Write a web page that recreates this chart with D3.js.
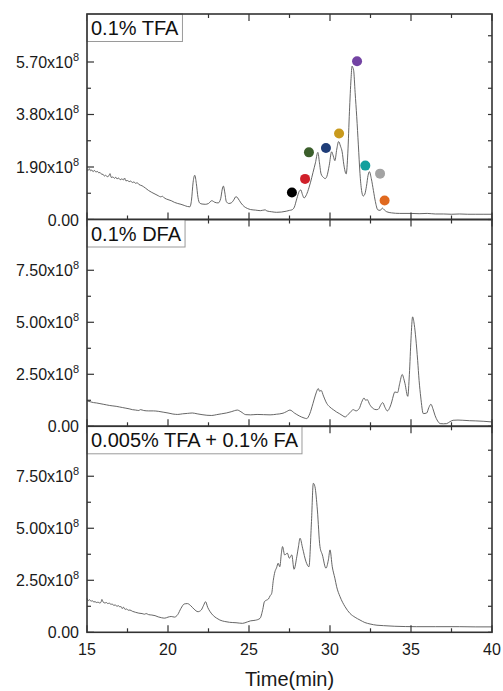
<!DOCTYPE html>
<html><head><meta charset="utf-8">
<script src="https://cdn.jsdelivr.net/npm/d3@7"></script>
<style>body{margin:0;background:#fff}svg{display:block}</style>
</head><body>
<svg id="c" width="503" height="691"></svg>
<script>
// ---------- data (time in min, intensity in units of 1e8) ----------
const panelLabels = ["0.1% TFA", "0.1% DFA", "0.005% TFA + 0.1% FA"];
const xTicksMajor = [15, 20, 25, 30, 35, 40];
const xTicksMinor = [17.5, 22.5, 27.5, 32.5, 37.5];
const tfaTicks = [0, 1.90, 3.80, 5.70];
const tfaMinor = [0.95, 2.85, 4.75, 6.65];
const otherTicks = [0, 2.50, 5.00, 7.50];
const otherMinor = [1.25, 3.75, 6.25, 8.75];

const tfa = [[15.0,1.80],[15.08,1.78],[15.15,1.84],[15.22,1.76],[15.3,1.79],[15.38,1.73],[15.45,1.78],[15.55,1.72],[15.65,1.74],[15.72,1.69],[15.8,1.70],[15.9,1.64],[16.0,1.63],[16.08,1.57],[16.15,1.60],[16.25,1.55],[16.35,1.58],[16.42,1.66],[16.5,1.52],[16.6,1.54],[16.7,1.49],[16.78,1.53],[16.85,1.47],[16.95,1.50],[17.05,1.44],[17.15,1.47],[17.25,1.43],[17.32,1.50],[17.4,1.40],[17.5,1.41],[17.6,1.37],[17.7,1.39],[17.8,1.34],[17.9,1.36],[18.0,1.31],[18.1,1.33],[18.2,1.27],[18.4,1.22],[18.6,1.14],[18.8,1.05],[19.0,0.98],[19.2,0.92],[19.4,0.86],[19.55,0.82],[19.65,0.84],[19.8,0.77],[20.0,0.72],[20.2,0.68],[20.4,0.62],[20.6,0.58],[20.8,0.55],[21.0,0.51],[21.2,0.47],[21.35,0.46],[21.45,0.70],[21.55,1.35],[21.65,1.60],[21.75,1.30],[21.85,0.80],[21.95,0.60],[22.1,0.56],[22.3,0.55],[22.5,0.58],[22.7,0.68],[22.9,0.62],[23.1,0.60],[23.25,0.75],[23.35,1.10],[23.42,1.21],[23.5,1.00],[23.6,0.65],[23.75,0.58],[23.9,0.60],[24.05,0.70],[24.2,0.83],[24.3,0.78],[24.5,0.60],[24.7,0.47],[24.9,0.40],[25.1,0.36],[25.4,0.34],[25.7,0.32],[26.0,0.35],[26.1,0.31],[26.4,0.28],[26.7,0.26],[27.0,0.27],[27.3,0.30],[27.5,0.33],[27.65,0.35],[27.8,0.45],[27.95,0.75],[28.1,1.02],[28.2,1.07],[28.3,0.90],[28.4,0.78],[28.55,0.90],[28.7,1.15],[28.8,1.35],[28.95,1.70],[29.1,2.05],[29.25,2.43],[29.35,2.05],[29.45,1.65],[29.6,1.52],[29.7,1.48],[29.8,1.55],[29.95,1.95],[30.1,2.45],[30.2,2.30],[30.3,2.13],[30.42,2.55],[30.53,2.82],[30.65,2.65],[30.75,2.45],[30.85,2.00],[31.0,1.65],[31.1,2.40],[31.2,3.90],[31.3,5.10],[31.36,5.55],[31.41,5.50],[31.46,5.40],[31.55,4.60],[31.65,3.72],[31.75,2.70],[31.85,1.67],[31.95,1.05],[32.05,0.85],[32.15,0.92],[32.25,1.20],[32.35,1.60],[32.43,1.73],[32.55,1.48],[32.68,1.05],[32.8,0.65],[32.95,0.35],[33.1,0.33],[33.23,0.41],[33.35,0.35],[33.5,0.28],[33.8,0.24],[34.3,0.22],[35.0,0.22],[35.5,0.21],[36.0,0.22],[36.5,0.20],[37.0,0.20],[37.5,0.19],[38.0,0.20],[38.5,0.19],[39.0,0.19],[39.5,0.19],[40.0,0.19]];

const dfa = [[15.0,1.22],[15.2,1.18],[15.4,1.14],[15.6,1.12],[15.8,1.09],[16.0,1.06],[16.2,1.03],[16.4,1.00],[16.6,0.98],[16.8,0.96],[17.0,0.93],[17.2,0.90],[17.4,0.87],[17.6,0.84],[17.8,0.80],[18.0,0.78],[18.2,0.76],[18.3,0.80],[18.5,0.76],[18.8,0.74],[19.1,0.74],[19.4,0.72],[19.7,0.68],[20.0,0.64],[20.3,0.59],[20.6,0.57],[20.9,0.60],[21.2,0.62],[21.5,0.64],[21.8,0.60],[22.1,0.56],[22.4,0.53],[22.7,0.52],[23.0,0.56],[23.3,0.60],[23.6,0.64],[23.9,0.70],[24.1,0.75],[24.28,0.78],[24.5,0.70],[24.8,0.56],[25.1,0.55],[25.5,0.57],[25.9,0.56],[26.3,0.55],[26.7,0.58],[27.1,0.63],[27.3,0.70],[27.53,0.78],[27.8,0.64],[28.1,0.50],[28.4,0.40],[28.56,0.37],[28.75,0.60],[28.95,1.10],[29.1,1.50],[29.28,1.81],[29.36,1.68],[29.45,1.73],[29.6,1.45],[29.8,1.10],[30.0,0.92],[30.2,0.80],[30.4,0.69],[30.6,0.60],[30.8,0.50],[30.93,0.45],[31.1,0.55],[31.3,0.72],[31.44,0.80],[31.6,0.74],[31.8,0.85],[31.95,1.15],[32.1,1.36],[32.2,1.25],[32.3,1.28],[32.45,1.05],[32.67,0.85],[32.85,0.80],[32.98,0.82],[33.15,1.05],[33.25,1.14],[33.4,0.90],[33.54,0.74],[33.7,0.92],[33.81,1.17],[33.92,1.50],[34.0,1.65],[34.17,1.62],[34.3,2.05],[34.46,2.49],[34.55,2.30],[34.63,2.05],[34.8,1.44],[34.9,2.50],[35.0,4.20],[35.1,5.26],[35.2,4.90],[35.3,4.20],[35.41,3.17],[35.5,2.20],[35.6,1.41],[35.76,0.61],[35.97,0.64],[36.1,0.90],[36.23,1.06],[36.35,0.85],[36.48,0.53],[36.65,0.25],[36.8,0.13],[37.0,0.12],[37.2,0.13],[37.4,0.22],[37.6,0.29],[37.9,0.30],[38.2,0.29],[38.6,0.27],[39.0,0.26],[39.5,0.24],[40.0,0.21]];

const mix = [[15.0,1.63],[15.07,1.52],[15.15,1.57],[15.25,1.49],[15.32,1.52],[15.42,1.46],[15.5,1.47],[15.6,1.43],[15.68,1.45],[15.78,1.41],[15.86,1.44],[15.92,1.58],[16.0,1.45],[16.1,1.41],[16.2,1.43],[16.28,1.38],[16.38,1.40],[16.48,1.34],[16.55,1.36],[16.65,1.30],[16.75,1.31],[16.85,1.25],[16.95,1.28],[17.02,1.22],[17.1,1.24],[17.18,1.14],[17.25,1.21],[17.35,1.10],[17.45,1.12],[17.55,1.06],[17.65,1.07],[17.8,1.01],[18.0,0.96],[18.2,0.92],[18.4,0.90],[18.55,0.87],[18.65,0.90],[18.8,0.85],[19.0,0.83],[19.2,0.80],[19.4,0.74],[19.6,0.70],[19.8,0.68],[20.0,0.73],[20.2,0.76],[20.4,0.73],[20.6,0.85],[20.8,1.15],[21.0,1.36],[21.2,1.38],[21.4,1.28],[21.6,1.12],[21.85,0.99],[22.05,1.07],[22.2,1.30],[22.32,1.47],[22.45,1.20],[22.6,0.99],[22.8,0.80],[23.0,0.68],[23.2,0.59],[23.5,0.52],[23.8,0.48],[24.2,0.46],[24.6,0.43],[24.9,0.50],[25.1,0.55],[25.4,0.58],[25.68,0.67],[25.85,1.10],[25.95,1.47],[26.09,1.55],[26.2,1.60],[26.3,1.75],[26.4,1.87],[26.5,2.50],[26.6,2.91],[26.7,3.10],[26.8,3.32],[26.9,3.15],[27.0,3.80],[27.07,4.12],[27.2,3.72],[27.37,3.80],[27.49,3.56],[27.64,3.72],[27.78,3.03],[27.95,3.63],[28.05,4.10],[28.15,4.52],[28.31,4.04],[28.52,3.39],[28.7,3.15],[28.85,5.20],[28.97,7.16],[29.07,7.00],[29.22,5.88],[29.38,4.12],[29.53,3.72],[29.75,3.08],[29.9,3.48],[30.0,3.96],[30.14,3.15],[30.3,2.60],[30.41,2.19],[30.62,1.71],[30.93,1.23],[31.23,0.91],[31.55,0.72],[31.85,0.59],[32.15,0.47],[32.47,0.40],[32.9,0.34],[33.3,0.32],[34.0,0.29],[35.35,0.27],[36.5,0.27],[38.0,0.27],[39.0,0.26],[40.0,0.26]];

// marker dots on the TFA trace
const dotT = [27.65, 28.46, 28.70, 29.75, 30.56, 31.67, 32.18, 33.09, 33.37];
const dotV = [0.98, 1.47, 2.43, 2.59, 3.11, 5.73, 1.95, 1.66, 0.69];
const dotColors = ["#000000", "#d0202a", "#3b5e2b", "#1f3d78", "#c99a1d", "#7343a3", "#12a09e", "#a3a3a3", "#e0691f"];

// ---------- layout ----------
const svg = d3.select("#c");
const font = "'Liberation Sans', Arial, sans-serif";
const x = d3.scaleLinear().domain([15, 40]).range([87, 492]);
const panels = [
  {top: 14, bottom: 219.5, max: 7.437, data: tfa, ticks: tfaTicks, minor: tfaMinor},
  {top: 219.5, bottom: 426.3, max: 9.94, data: dfa, ticks: otherTicks, minor: otherMinor},
  {top: 426.3, bottom: 632.3, max: 9.90, data: mix, ticks: otherTicks, minor: otherMinor}
];
const axisColor = "#333";

panels.forEach((p, i) => {
  const y = d3.scaleLinear().domain([0, p.max]).range([p.bottom, p.top]);
  const g = svg.append("g");
  const line = d3.line().x(d => x(d[0])).y(d => y(d[1])).curve(d3.curveMonotoneX);
  g.append("path").datum(p.data).attr("d", line)
    .attr("fill", "none").attr("stroke", "#555").attr("stroke-width", 0.9);

  if (i === 0) {
    g.selectAll("circle").data(dotT).join("circle")
      .attr("cx", d => x(d)).attr("cy", (d, k) => y(dotV[k]))
      .attr("r", 5).attr("fill", (d, k) => dotColors[k]);
  }

  // ticks (inward) on all four sides
  const tk = g.append("g").attr("stroke", axisColor).attr("stroke-width", 1.2);
  const x0 = x.range()[0], x1 = x.range()[1];
  xTicksMajor.concat(xTicksMinor).forEach(t => {
    const L = xTicksMajor.includes(t) ? 7 : 4;
    tk.append("line").attr("x1", x(t)).attr("x2", x(t)).attr("y1", p.bottom).attr("y2", p.bottom - L);
    tk.append("line").attr("x1", x(t)).attr("x2", x(t)).attr("y1", p.top).attr("y2", p.top + L);
  });
  p.ticks.concat(p.minor).forEach(v => {
    const L = p.ticks.includes(v) ? 7 : 4;
    tk.append("line").attr("x1", x0).attr("x2", x0 + L).attr("y1", y(v)).attr("y2", y(v));
    tk.append("line").attr("x1", x1).attr("x2", x1 - 4).attr("y1", y(v)).attr("y2", y(v));
  });

  // y tick labels
  p.ticks.forEach(v => {
    const t = g.append("text").attr("x", 79).attr("y", y(v) + 6)
      .attr("text-anchor", "end").attr("font-family", font).attr("font-size", 16).attr("fill", "#1a1a1a");
    if (v === 0) { t.text("0.00"); }
    else {
      t.append("tspan").text(v.toFixed(2) + "x10");
      t.append("tspan").attr("font-size", 11).attr("dy", -7).text("8");
    }
  });

  // label box
  const bx = g.append("g");
  const lt = bx.append("text").attr("x", x0 + 4).attr("y", p.top + 21)
    .attr("font-family", font).attr("font-size", 20).attr("fill", "#111").text(panelLabels[i]);
  const w = lt.node().getComputedTextLength() + 8;
  bx.insert("rect", "text").attr("x", x0).attr("y", p.top).attr("width", w).attr("height", 27.5)
    .attr("fill", "#fff").attr("stroke", "#9a9a9a").attr("stroke-width", 1);

  // frame
  g.append("rect").attr("x", x0).attr("y", p.top).attr("width", x1 - x0).attr("height", p.bottom - p.top)
    .attr("fill", "none").attr("stroke", axisColor).attr("stroke-width", 1.6);
});

// x tick labels and title
svg.append("g").selectAll("text").data(xTicksMajor).join("text")
  .attr("x", d => x(d)).attr("y", 654.5).attr("text-anchor", "middle")
  .attr("font-family", font).attr("font-size", 16).attr("fill", "#1a1a1a").text(d => d);
svg.append("text").attr("x", (x.range()[0] + x.range()[1]) / 2).attr("y", 686)
  .attr("text-anchor", "middle").attr("font-family", font).attr("font-size", 20)
  .attr("fill", "#1a1a1a").text("Time(min)");
</script>
</body></html>
